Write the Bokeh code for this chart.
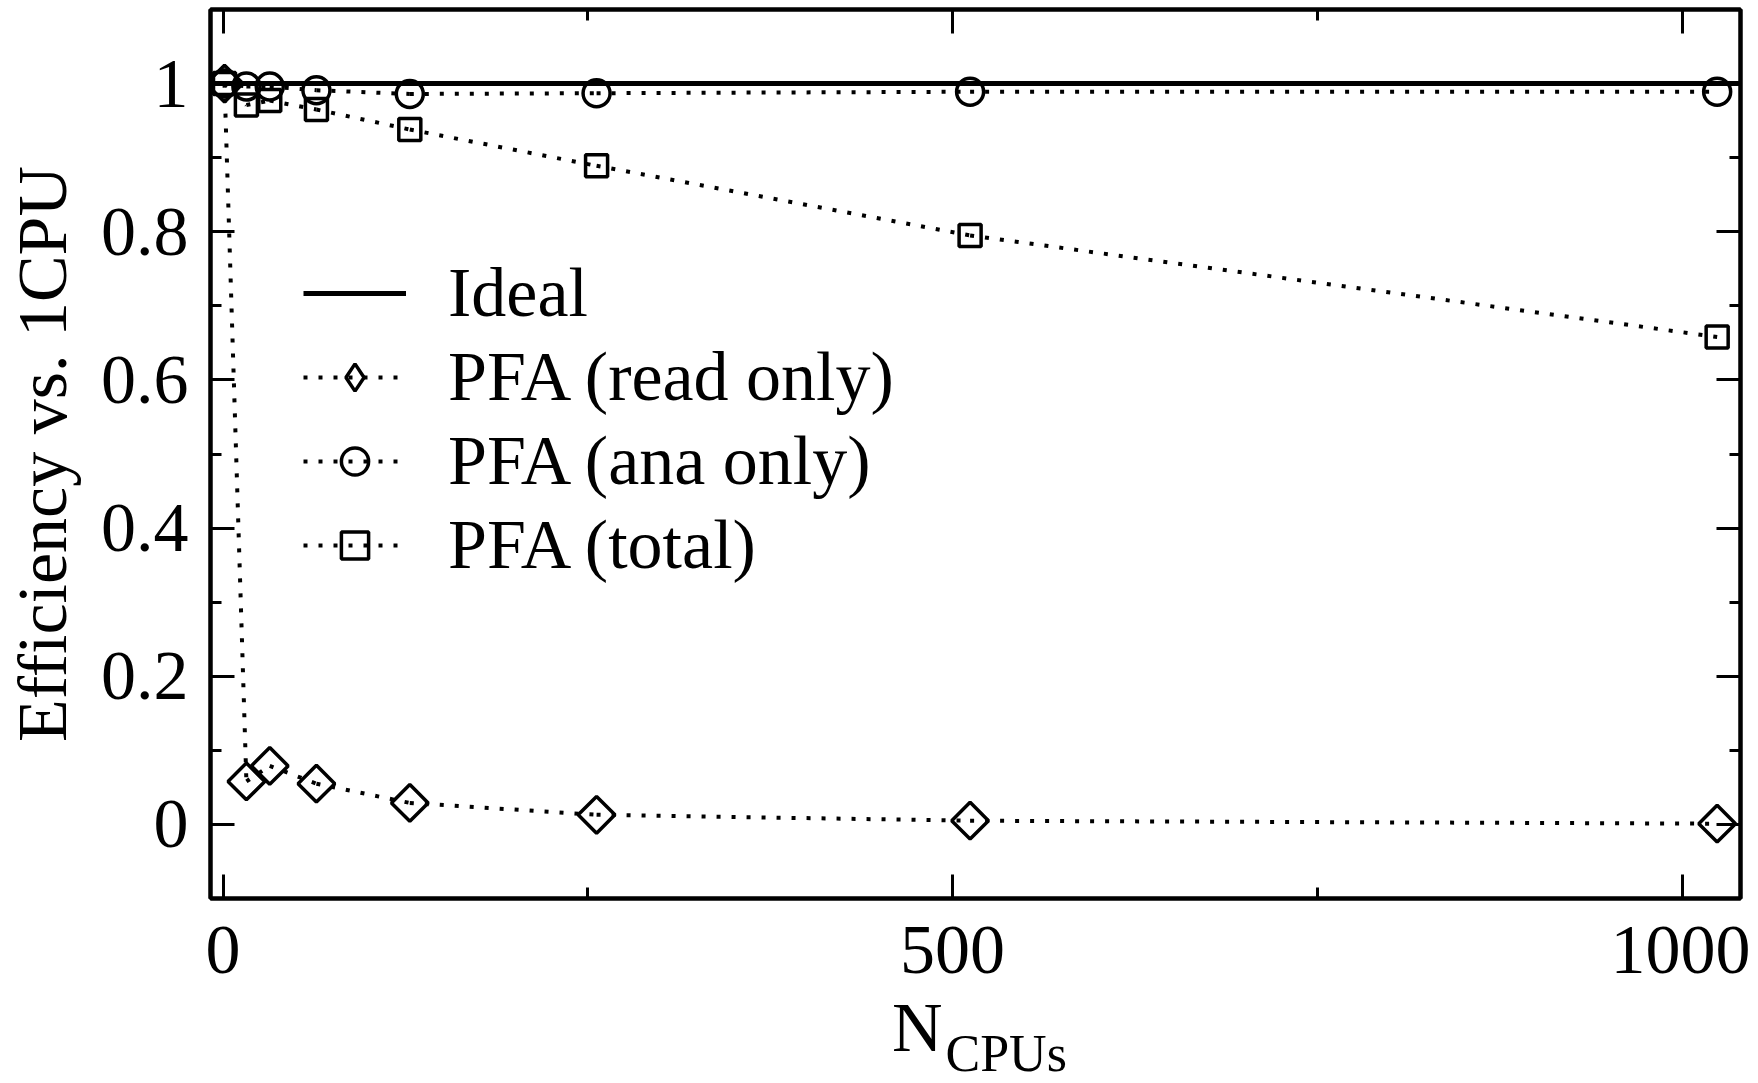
from bokeh.plotting import figure
from bokeh.layouts import column
from bokeh.models import (ColumnDataSource, Range1d, LinearAxis, SingleIntervalTicker,
                          Legend, LegendItem, CustomJSTickFormatter)
from bokeh.core.properties import value
from bokeh.embed import file_html
from bokeh.resources import INLINE
import math

# ---- data ----
n_cpus = [1, 16, 32, 64, 128, 256, 512, 1024]
eff_read_only = [1.0, 0.058, 0.079, 0.055, 0.029, 0.013, 0.005, 0.001]
eff_ana_only = [1.0, 0.996, 0.996, 0.991, 0.986, 0.987, 0.989, 0.989]
eff_total = [1.0, 0.971, 0.977, 0.965, 0.938, 0.889, 0.795, 0.658]
ideal_value = 1.0

series_labels = ["PFA (read only)", "PFA (ana only)", "PFA (total)"]
ideal_label = "Ideal"
x_label_main = "N"
x_label_sub = "CPUs"
y_label = "Efficiency vs. 1CPU"

XR = (-8.6, 1040.0)
YR = (-0.1, 1.1)
X_TICK = 500
Y_TICK = 0.2

FONT = "Liberation Serif"
FS = "70px"

# ---- layout constants (pixels) ----
TOTAL_W = 1750
FRAME_LEFT = 210
FRAME_W = 1530
FRAME_RIGHT_BORDER = TOTAL_W - FRAME_LEFT - FRAME_W
FRAME_TOP = 9
FRAME_H = 889
BOTTOM_BORDER = 140
PAGE_H = 1083
STRIP_PULL = -60          # pull the title strip up over the empty bottom border
LABEL_H = PAGE_H - (FRAME_TOP + FRAME_H + BOTTOM_BORDER) - STRIP_PULL
N_BASELINE_FROM_TOP = 49
SUB_BASELINE_FROM_TOP = 75

p = figure(frame_width=FRAME_W, frame_height=FRAME_H,
           x_range=Range1d(*XR), y_range=Range1d(*YR),
           output_backend="svg", toolbar_location=None,
           min_border_left=FRAME_LEFT, min_border_right=FRAME_RIGHT_BORDER,
           min_border_top=FRAME_TOP, min_border_bottom=BOTTOM_BORDER,
           background_fill_color="white", border_fill_color="white")
p.xgrid.visible = False
p.ygrid.visible = False
p.outline_line_color = "black"
p.outline_line_width = 4
p.outline_line_alpha = 1.0


def style_axis(ax, interval, show_labels=True):
    ax.ticker = SingleIntervalTicker(interval=interval, num_minor_ticks=2)
    ax.axis_line_width = 4
    ax.axis_line_color = "black"
    ax.major_tick_in = 24
    ax.major_tick_out = 0
    ax.minor_tick_in = 11
    ax.minor_tick_out = 0
    ax.major_tick_line_width = 3
    ax.minor_tick_line_width = 3
    ax.major_tick_line_color = "black"
    ax.minor_tick_line_color = "black"
    if show_labels:
        ax.major_label_text_font = FONT
        ax.major_label_text_font_size = FS
        ax.major_label_text_color = "black"
    else:
        ax.formatter = CustomJSTickFormatter(code="return ''")
        ax.major_label_text_font_size = "1px"
        ax.major_label_standoff = 0


style_axis(p.xaxis[0], X_TICK)
p.xaxis[0].major_label_standoff = 28
style_axis(p.yaxis[0], Y_TICK)
p.yaxis[0].major_label_standoff = 22
p.yaxis[0].axis_label = y_label
p.yaxis[0].axis_label_text_font = FONT
p.yaxis[0].axis_label_text_font_size = FS
p.yaxis[0].axis_label_text_font_style = "normal"
p.yaxis[0].axis_label_text_color = "black"
p.yaxis[0].axis_label_standoff = 17

top_ax = LinearAxis()
style_axis(top_ax, X_TICK, show_labels=False)
p.add_layout(top_ax, "above")
right_ax = LinearAxis()
style_axis(right_ax, Y_TICK, show_labels=False)
p.add_layout(right_ax, "right")

# ---- ideal line ----
ideal_src = ColumnDataSource(dict(x=list(XR), y=[ideal_value, ideal_value]))
r_ideal = p.line("x", "y", source=ideal_src, line_color="black", line_width=5)

# ---- series ----
markers = ["square", "circle", "square"]
sizes = [26, 27, 22]
angles = [math.pi / 4, 0.0, 0.0]
series = [eff_read_only, eff_ana_only, eff_total]
items = [LegendItem(label=ideal_label, renderers=[r_ideal])]
for i, (vals, mk, sz, ang, lab) in enumerate(zip(series, markers, sizes, angles, series_labels)):
    seg_src = ColumnDataSource(dict(x0=n_cpus[:-1], x1=n_cpus[1:], y0=vals[:-1], y1=vals[1:]))
    r_seg = p.segment("x0", "y0", "x1", "y1", source=seg_src, line_color="black",
                      line_width=4, line_dash="4 11", line_cap="butt")
    pt_src = ColumnDataSource(dict(x=n_cpus, y=vals))
    r_pt = p.scatter("x", "y", source=pt_src, marker=mk, size=sz, angle=ang,
                     fill_color=None, line_color="black", line_width=3.5)
    if i == 0:
        # legend proxy: the legend ignores marker angle, so show a diamond there
        r_leg = p.scatter(x=n_cpus[:1], y=vals[:1], marker="diamond", size=sz,
                          fill_color=None, line_color="black", line_width=3.5, visible=False)
        items.append(LegendItem(label=lab, renderers=[r_seg, r_leg]))
    else:
        items.append(LegendItem(label=lab, renderers=[r_seg, r_pt]))

legend = Legend(items=items, location=(93, 311), glyph_width=103, glyph_height=68,
                label_height=84, label_standoff=42, spacing=0, padding=0, margin=0,
                border_line_color=None, background_fill_alpha=0,
                label_text_font=FONT, label_text_font_size=FS, label_text_color="black")
p.add_layout(legend)

# ---- x axis title strip (N with subscript CPUs) ----
lab = figure(frame_width=FRAME_W, frame_height=LABEL_H,
             x_range=p.x_range, y_range=Range1d(0, LABEL_H),
             output_backend="svg", toolbar_location=None,
             min_border_left=FRAME_LEFT, min_border_right=FRAME_RIGHT_BORDER,
             min_border_top=0, min_border_bottom=0,
             x_axis_location=None, y_axis_location=None, title=None,
             background_fill_alpha=0, border_fill_alpha=0)
lab.margin = (STRIP_PULL, 0, 0, 0)
lab.outline_line_color = None
lab.xgrid.visible = False
lab.ygrid.visible = False
x_mid = (XR[0] + XR[1]) / 2
lab.text(x=[x_mid], y=[LABEL_H - N_BASELINE_FROM_TOP], text=[x_label_main], x_offset=-33,
         text_align="right", text_baseline="alphabetic",
         text_font=value(FONT), text_font_size="70px", text_color="black")
lab.text(x=[x_mid], y=[LABEL_H - SUB_BASELINE_FROM_TOP], text=[x_label_sub], x_offset=-30,
         text_align="left", text_baseline="alphabetic",
         text_font=value(FONT), text_font_size="52px", text_color="black")

layout = column(p, lab, spacing=0)
open("out.html", "w").write(file_html(layout, INLINE))
